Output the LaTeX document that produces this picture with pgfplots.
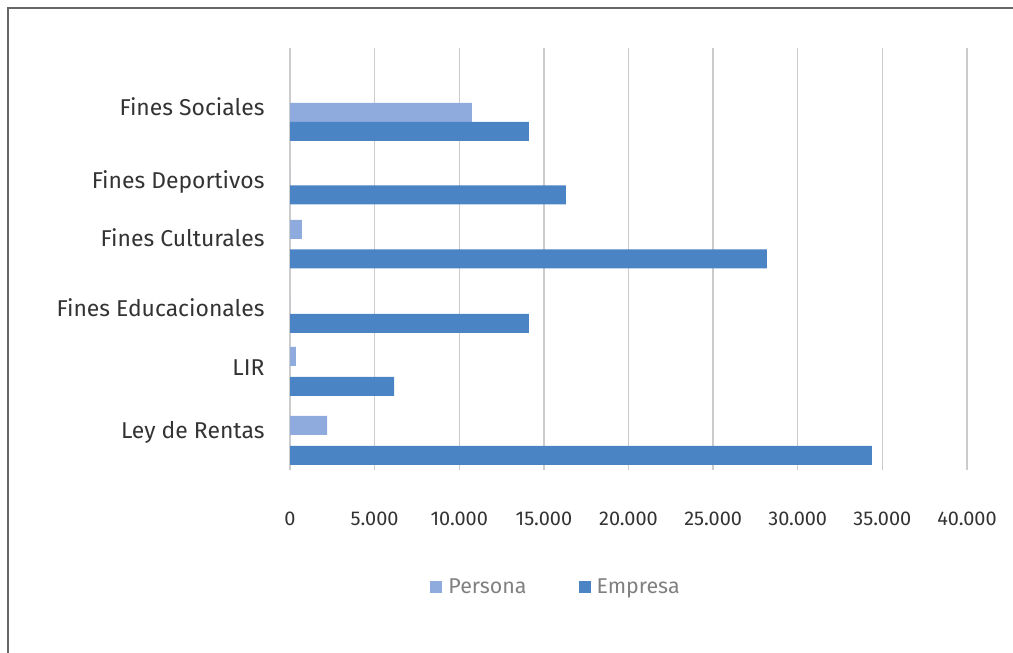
\documentclass[border=0pt]{standalone}
\usepackage{pgfplots}
\pgfplotsset{compat=1.18}
\usepackage{fontspec}
\setmainfont{Fira Sans}
\definecolor{persona}{HTML}{8FAADC}
\definecolor{empresa}{HTML}{4A84C4}
\definecolor{txt}{HTML}{333333}
\definecolor{grd}{HTML}{CCCCCC}
\definecolor{frame}{HTML}{666666}
\begin{document}
\begin{tikzpicture}
\useasboundingbox (0,0) rectangle (1013bp,653bp);
\draw[frame, line width=1.3bp] (8bp,0) -- (8bp,645bp) -- (1013bp,645bp);
\begin{axis}[
  at={(290bp,183bp)}, anchor=south west,
  scale only axis, width=677bp, height=422bp,
  xmin=0, xmax=40000, ymin=183, ymax=605,
  xtick={0,5000,...,40000},
  scaled x ticks=false,
  /pgf/number format/.cd, 1000 sep={.}, assume math mode=true, /pgfplots/.cd,
  ytick={546,471,415,345,285,221},
  yticklabels={Fines Sociales,Fines Deportivos,Fines Culturales,Fines Educacionales,LIR,Ley de Rentas},
  xmajorgrids, grid style={grd, line width=1.3bp},
  axis line style={draw=none},
  major tick length=0,
  xticklabel style={font=\fontsize{20}{24}\selectfont, text=txt, anchor=north, yshift=-38bp},
  yticklabel style={font=\fontsize{23}{27}\selectfont, text=txt, anchor=east, xshift=-22bp},
  legend style={at={(0.393,-0.277)}, anchor=center, draw=none, fill=none,
    font=\fontsize{21.5}{25}\selectfont, text=gray, legend columns=2,
    /tikz/every even column/.append style={column sep=50bp}},
  legend image code/.code={\fill[#1] (0bp,-6bp) rectangle (12bp,6bp); \path (16bp,0);},
]
% Persona
\addplot[xbar, bar width=19, bar shift=0, fill=persona, draw=none] coordinates {
  (10750,540.5) (0,477) (700,423.5) (0,348.5) (350,296.5) (2190,227.5)
};
\addlegendentry{Persona}
% Empresa
\addplot[xbar, bar width=19, bar shift=0, fill=empresa, draw=none] coordinates {
  (14120,521.5) (16300,458) (28170,394) (14120,329.5) (6150,266.5) (34380,197.5)
};
\addlegendentry{Empresa}
\end{axis}
\end{tikzpicture}
\end{document}
